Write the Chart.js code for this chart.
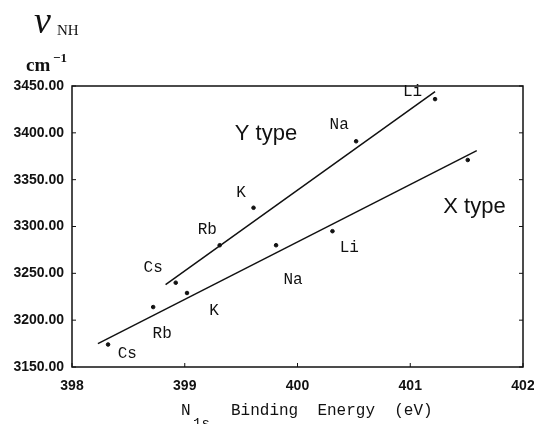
<!DOCTYPE html>
<html>
<head>
<meta charset="utf-8">
<script src="https://cdn.jsdelivr.net/npm/chart.js@4.4.0/dist/chart.umd.min.js"></script>
<style>
  html, body { margin: 0; padding: 0; background: #fff; }
  #wrap { width: 534px; height: 424px; }
</style>
</head>
<body>
<div id="wrap"><canvas id="chart"></canvas></div>
<script>
// measured points (N1s binding energy in eV, nu NH in cm-1)
const metals = ['Cs', 'Rb', 'K', 'Na', 'Li'];

const yTypeEnergy = [398.92, 399.31, 399.61, 400.52, 401.22];
const yTypeFreq = [3240, 3280, 3320, 3391, 3436];

const xTypeEnergy = [398.32, 398.72, 399.02, 399.81, 400.31, 401.51];
const xTypeFreq = [3174, 3214, 3229, 3280, 3295, 3371];

// fitted lines (end points)
const yFitEnergy = [398.83, 401.22];
const yFitFreq = [3238, 3444];
const xFitEnergy = [398.23, 401.59];
const xFitFreq = [3175, 3381];

// where the metal names sit, in data units
const yLabelEnergy = [398.72, 399.20, 399.50, 400.37, 401.02];
const yLabelFreq = [3256, 3297, 3336, 3409, 3444];
const xLabelEnergy = [398.49, 398.80, 399.26, 399.96, 400.46];
const xLabelFreq = [3164, 3186, 3210, 3243, 3277];

const xTicks = [398, 399, 400, 401, 402];
const yTicks = [3150, 3200, 3250, 3300, 3350, 3400, 3450];

const toXY = (xs, ys) => xs.map((v, i) => ({ x: v, y: ys[i] }));

const annotate = {
  id: 'annotate',
  afterDraw(chart) {
    const { ctx, chartArea: a, scales: { x, y } } = chart;
    ctx.save();
    ctx.strokeStyle = '#111';
    ctx.lineWidth = 1.5;
    ctx.strokeRect(a.left, a.top, a.right - a.left, a.bottom - a.top);

    // small inward tick marks
    ctx.lineWidth = 1;
    yTicks.forEach(v => {
      const py = y.getPixelForValue(v);
      ctx.beginPath();
      ctx.moveTo(a.left, py); ctx.lineTo(a.left + 4, py);
      ctx.moveTo(a.right, py); ctx.lineTo(a.right - 4, py);
      ctx.stroke();
    });
    xTicks.forEach(v => {
      const px = x.getPixelForValue(v);
      ctx.beginPath();
      ctx.moveTo(px, a.bottom); ctx.lineTo(px, a.bottom - 4);
      ctx.stroke();
    });

    // metal labels
    ctx.fillStyle = '#111';
    ctx.font = '16px "Liberation Mono"';
    ctx.textAlign = 'center';
    ctx.textBaseline = 'middle';
    metals.forEach((m, i) => {
      ctx.fillText(m, x.getPixelForValue(yLabelEnergy[i]), y.getPixelForValue(yLabelFreq[i]));
      ctx.fillText(m, x.getPixelForValue(xLabelEnergy[i]), y.getPixelForValue(xLabelFreq[i]));
    });

    // series names
    ctx.font = '22px "Liberation Sans"';
    ctx.fillText('Y type', x.getPixelForValue(399.72), y.getPixelForValue(3399));
    ctx.fillText('X type', x.getPixelForValue(401.57), y.getPixelForValue(3321));

    // y axis title
    ctx.textAlign = 'left';
    ctx.textBaseline = 'alphabetic';
    ctx.font = 'italic 38px "Liberation Serif"';
    ctx.fillText('\u03BD', 34, 33);
    ctx.font = '15px "Liberation Serif"';
    ctx.fillText('NH', 57, 35);
    ctx.font = 'bold 19px "Liberation Serif"';
    ctx.fillText('cm', 26, 71);
    ctx.font = 'bold 13px "Liberation Serif"';
    ctx.fillText('\u22121', 53, 62);

    // x axis title
    ctx.font = '16px "Liberation Mono"';
    ctx.fillText('N', 181, 415);
    ctx.font = '14px "Liberation Mono"';
    ctx.fillText('1s', 193, 428);
    ctx.font = '16px "Liberation Mono"';
    ctx.fillText('Binding  Energy  (eV)', 231, 415);
    ctx.restore();
  }
};

new Chart(document.getElementById('chart'), {
  type: 'scatter',
  data: {
    datasets: [
      {
        label: 'Y type',
        data: toXY(yTypeEnergy, yTypeFreq),
        backgroundColor: '#111',
        borderColor: '#111',
        pointRadius: 1.8
      },
      {
        label: 'X type',
        data: toXY(xTypeEnergy, xTypeFreq),
        backgroundColor: '#111',
        borderColor: '#111',
        pointRadius: 1.8
      },
      {
        label: 'Y fit',
        data: toXY(yFitEnergy, yFitFreq),
        showLine: true,
        borderColor: '#111',
        borderWidth: 1.5,
        pointRadius: 0
      },
      {
        label: 'X fit',
        data: toXY(xFitEnergy, xFitFreq),
        showLine: true,
        borderColor: '#111',
        borderWidth: 1.5,
        pointRadius: 0
      }
    ]
  },
  options: {
    responsive: true,
    maintainAspectRatio: false,
    animation: false,
    layout: { padding: { top: 86, right: 11, left: 0, bottom: 0 } },
    plugins: {
      legend: { display: false },
      tooltip: { enabled: false }
    },
    scales: {
      x: {
        type: 'linear',
        min: 398,
        max: 402,
        grid: { display: false },
        border: { display: false },
        afterBuildTicks: s => { s.ticks = xTicks.map(v => ({ value: v })); },
        afterFit: s => {
          s.height = 57;
          s.paddingLeft = 0;
          s.paddingRight = 0;
        },
        ticks: {
          padding: 3,
          color: '#111',
          maxRotation: 0,
          font: { size: 14, weight: 'bold', family: 'Liberation Sans' },
          callback: v => String(v)
        }
      },
      y: {
        type: 'linear',
        min: 3150,
        max: 3450,
        grid: { display: false },
        border: { display: false },
        afterBuildTicks: s => { s.ticks = yTicks.map(v => ({ value: v })); },
        afterFit: s => { s.width = 72; },
        ticks: {
          padding: 0,
          color: '#111',
          font: { size: 14, weight: 'bold', family: 'Liberation Sans' },
          callback: v => v.toFixed(2)
        }
      }
    }
  },
  plugins: [annotate]
});
</script>
</body>
</html>
